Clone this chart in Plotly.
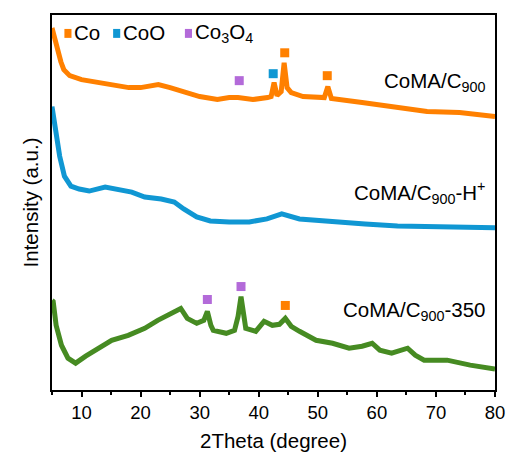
import plotly.graph_objects as go

# XRD patterns, stacked intensities (a.u.) vs 2Theta (degree)
tt_c900 = [5.0, 5.5, 6.0, 6.5, 7.0, 8.0, 10, 12, 15, 18, 20, 23, 25, 28, 30, 33, 35,
           36.5, 39, 41.5, 42.1, 42.6, 43.1, 43.8, 44.3, 44.8, 45.5, 47.5, 51.1, 51.7,
           52.3, 57.5, 63, 68.5, 74, 80]
i_c900 = [364, 352, 340, 330, 322, 316, 312, 310, 307, 304, 304, 307, 304, 299, 295, 292, 294,
          294, 292, 294, 295, 309, 296, 300, 329, 304, 299, 295, 294, 305,
          293, 289, 284, 280, 279, 275]

tt_h = [5.0, 5.7, 6.3, 7.1, 8.2, 9.6, 11.3, 14, 16.2, 18.5, 20.7, 23.5, 25.7, 27.3, 29.5,
        31.8, 35, 38.4, 41.4, 43.9, 46.9, 52.5, 58, 63.5, 69.2, 74.7, 80]
i_h = [285, 255, 235, 215, 205, 202, 200, 204, 202, 199, 194, 192, 189, 182, 174,
       170, 169, 169, 172, 177, 172, 169, 167, 165, 164, 163, 163]

tt_350 = [5.0, 5.2, 5.7, 6.6, 7.7, 9.0, 10.7, 12.9, 15.1, 17.9, 20.7, 22.9, 25.1, 26.8, 27.9,
          29.5, 30.7, 31.3, 31.9, 32.3, 34.5, 35.9, 36.5, 37.0, 37.5, 37.8, 39.5, 40.9, 42.3,
          43.5, 44.5, 45.5, 46.9, 49.7, 52.5, 55.3, 57.5, 59.2, 60.5, 62.5, 65.2, 66.5, 68,
          71.9, 75.8, 80]
i_350 = [90, 89, 65, 45, 32, 27, 34, 42, 50, 55, 62, 70, 77, 82, 72,
         67, 70, 79, 65, 60, 57, 60, 74, 94, 74, 62, 59, 69, 65,
         66, 72, 64, 59, 50, 47, 42, 44, 47, 40, 37, 42, 35, 30,
         30, 25, 21]

# Phase reflections marked above the patterns
co_tt = [44.4, 51.6, 44.5]
co_i = [339, 316, 85]
coo_tt = [42.45]
coo_i = [318]
co3o4_tt = [36.7, 31.3, 37.0]
co3o4_i = [311, 91, 104]

series_names = ["CoMA/C<sub>900</sub>", "CoMA/C<sub>900</sub>-H<sup>+</sup>",
                "CoMA/C<sub>900</sub>-350"]
phase_names = ["Co", "CoO", "Co<sub>3</sub>O<sub>4</sub>"]

C_ORANGE = "#ff8000"
C_BLUE = "#1097d3"
C_GREEN = "#468b22"
C_PURPLE = "#b36ad9"
FONT = "Arial, Liberation Sans, sans-serif"

fig = go.Figure()
for tt, inten, col in [(tt_c900, i_c900, C_ORANGE), (tt_h, i_h, C_BLUE),
                       (tt_350, i_350, C_GREEN)]:
    fig.add_trace(go.Scatter(x=tt, y=inten, mode="lines",
                             line=dict(color=col, width=5), showlegend=False))

for tt, inten, col in [(co_tt, co_i, C_ORANGE), (coo_tt, coo_i, C_BLUE),
                       (co3o4_tt, co3o4_i, C_PURPLE)]:
    fig.add_trace(go.Scatter(x=tt, y=inten, mode="markers",
                             marker=dict(symbol="square", size=9, color=col),
                             showlegend=False))

# sample labels on the right
for name, yv in zip(series_names, [310, 199, 79]):
    fig.add_annotation(x=78.7, y=yv, text=name, showarrow=False, xanchor="right",
                       yanchor="middle", font=dict(size=20.5, color="black", family=FONT))

# phase key across the top
key_x = [7.7, 15.95, 28.1]
for name, kx, col in zip(phase_names, key_x, [C_ORANGE, C_BLUE, C_PURPLE]):
    fig.add_shape(type="rect", x0=kx - 0.6, x1=kx + 0.6, y0=354, y1=363,
                  fillcolor=col, line=dict(width=0))
    fig.add_annotation(x=kx + 0.75, y=359, text=name, showarrow=False, xanchor="left",
                       yanchor="middle", font=dict(size=20.5, color="black", family=FONT))

fig.update_layout(
    width=515, height=459,
    margin=dict(l=52, r=10, t=15, b=62),
    paper_bgcolor="white", plot_bgcolor="white",
    font=dict(family=FONT, color="black"),
)
fig.update_xaxes(
    range=[5, 80], tick0=0, dtick=10, ticks="outside", ticklen=5, tickwidth=1.5,
    tickcolor="black", showline=True, linecolor="black", linewidth=1.5, mirror=True,
    showgrid=False, zeroline=False, tickfont=dict(size=18.5), ticklabeloverflow="allow",
    minor=dict(dtick=5, tick0=5, ticks="outside", ticklen=3, tickwidth=1.5, tickcolor="black"),
    title=dict(text="2Theta (degree)", font=dict(size=20.5), standoff=12),
)
fig.update_yaxes(
    range=[0, 377], showticklabels=False, ticks="", showline=True, linecolor="black",
    linewidth=1.5, mirror=True, showgrid=False, zeroline=False,
    title=dict(text="Intensity (a.u.)", font=dict(size=20.5), standoff=6),
)

fig.write_html("out.html")
